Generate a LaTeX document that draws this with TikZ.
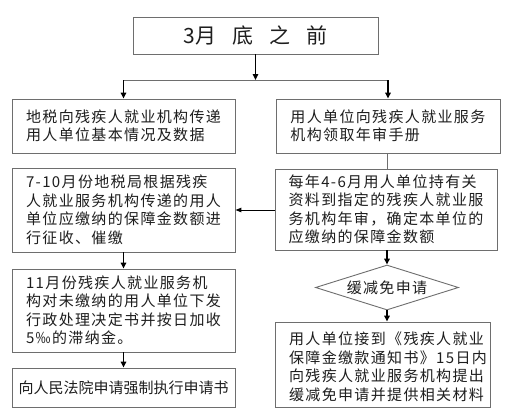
\documentclass[tikz,border=0pt]{standalone}
\usepackage{fontspec}
\setmainfont{Noto Sans CJK SC}
\newfontfamily\cjkls[LetterSpace=9]{Noto Sans CJK SC}
\usetikzlibrary{arrows.meta,shapes.geometric}
\definecolor{boxgray}{HTML}{6E6E6E}
\definecolor{txt}{HTML}{1E1E1E}
\begin{document}
\begin{tikzpicture}[x=1pt,y=-1pt,
  box/.style={draw=boxgray,line width=0.9pt,inner sep=0pt,align=left,text=txt,
    font=\cjkls\fontsize{15}{18.5}\selectfont},
  plain/.style={text=txt,inner sep=0pt,align=left,font=\cjkls\fontsize{15}{18.5}\selectfont},
  arr/.style={draw=black,line width=1.6pt,-{Triangle[length=6pt,width=5.5pt]}},
  thinarr/.style={draw=black,line width=1pt,-{Triangle[length=6pt,width=4.5pt]}},
  thinline/.style={draw=boxgray,line width=0.9pt}]
\useasboundingbox (0,0) rectangle (517,416);
\fill[white] (0,0) rectangle (517,416);

\node[box,minimum width=245pt,minimum height=37pt,font=\fontsize{21}{24}\selectfont] (top) at (255.5,35.5)
  {3月\hspace{16pt}底\hspace{16pt}之\hspace{16pt}前};

\node[box,minimum width=223pt,minimum height=54pt] (L1) at (123.5,126)
  {地税向残疾人就业机构传递\\用人单位基本情况及数据};
\node[box,minimum width=224pt,minimum height=54pt] (R1) at (388,126)
  {用人单位向残疾人就业服务\\机构领取年审手册\hspace*{65.6pt}};

\node[box,minimum width=223pt,minimum height=84pt] (L2) at (123.5,210)
  {7-10月份地税局根据残疾\\人就业服务机构传递的用人\\单位应缴纳的保障金数额进\\行征收、催缴};
\node[box,minimum width=222pt,minimum height=81pt] (R2) at (386,209.5)
  {每年4-6月用人单位持有关\\资料到指定的残疾人就业服\\务机构年审，确定本单位的\\应缴纳的保障金数额};

\node[box,minimum width=223pt,minimum height=83pt] (L3) at (123.5,310.5)
  {11月份残疾人就业服务机\\构对未缴纳的用人单位下发\\行政处理决定书并按日加收\\5‰的滞纳金。};
\node[box,minimum width=223pt,minimum height=39pt,font=\fontsize{15}{18.5}\selectfont] (L4) at (123.5,387.5)
  {向人民法院申请强制执行申请书};

\node[box,diamond,aspect=3.2,minimum width=143pt,minimum height=45pt] (D) at (387,287.5)
  {缓减免申请};

\node[box,minimum width=215pt,minimum height=85pt] (R3) at (382.5,364.5) {};
\node[plain] (R3t) at (388,367)
  {用人单位接到《残疾人就业\\保障金缴款通知书》15日内\\向残疾人就业服务机构提出\\缓减免申请并提供相关材料};

\coordinate (split) at (255.5,80);
\draw[arr] (top.south) -- (split);
\draw[thinline] (L1.north |- split) -- (R1.north |- split);
\draw[arr] (L1.north |- split) -- (L1.north);
\draw[arr] (R1.north |- split) -- (R1.north);

\draw[thinline] (D.north |- R1.south) -- (D.north |- R2.north);
\draw[thinarr] (R2.west |- L2.east) -- (L2.east);
\draw[arr] (L2.south) -- (L3.north);
\draw[arr] (L3.south) -- (L4.north);
\draw[arr] (D.north |- R2.south) -- (D.north);
\draw[arr] (D.south) -- (D.south |- R3.north);
\end{tikzpicture}
\end{document}
